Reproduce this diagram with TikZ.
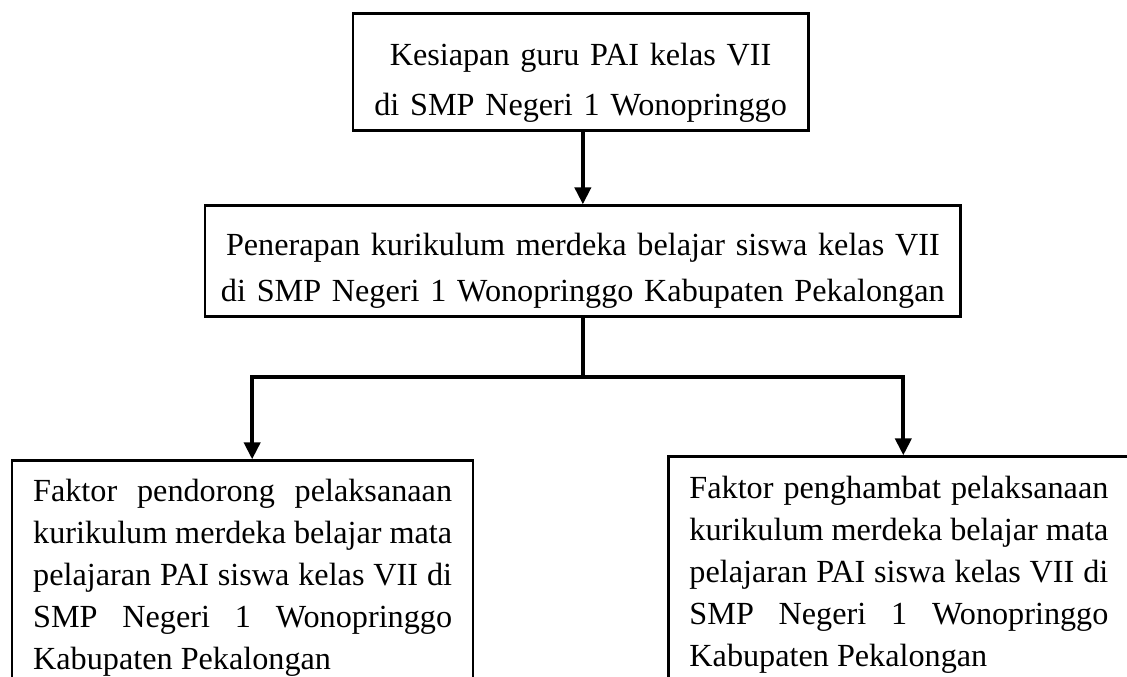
\documentclass[tikz,border=0pt]{standalone}
\usepackage{fontspec}
\setmainfont{Liberation Serif}
\usetikzlibrary{arrows.meta}
\tolerance=10000
\hbadness=10000
\hyphenpenalty=10000
\tikzset{
  txt/.style={font=\fontsize{16.1}{21}\selectfont},
  box/.style={draw, line width=1.3pt, inner sep=0pt, align=center, anchor=north},
  factor/.style={txt, draw, line width=1.3pt, inner xsep=0.37cm, inner ysep=0pt,
    text width=7.36cm, align=justify, text depth=200pt, anchor=north west},
  link/.style={line width=2pt},
  arr/.style={link, -{Triangle[length=8.5pt,width=8pt]}}
}
\begin{document}
\begin{tikzpicture}
\useasboundingbox (0,0) rectangle (19.80,11.88);
\clip (0,0) rectangle (19.80,11.88);
% Boxes
\node[box, font=\fontsize{16.1}{25}\selectfont, text width=8.0cm, text height=26pt, text depth=32.5pt] (kesiapan) at (10.20, 11.67)
  {Kesiapan guru PAI kelas VII\\di SMP Negeri 1 Wonopringgo};
\node[box, font=\fontsize{16.1}{23}\selectfont, text width=13.27cm, text height=25pt, text depth=30.5pt] (penerapan) at (10.24, 8.29)
  {Penerapan kurikulum merdeka belajar siswa kelas VII\\di SMP Negeri 1 Wonopringgo Kabupaten Pekalongan};
\node[factor, text height=20.5pt] (pendorong) at (0.19, 3.81)
  {Faktor pendorong pelaksanaan\linebreak kurikulum merdeka belajar mata\linebreak pelajaran PAI siswa kelas VII di\linebreak SMP Negeri 1 Wonopringgo\linebreak Kabupaten Pekalongan};
\node[factor, text height=21pt] (penghambat) at (11.72, 3.88)
  {Faktor penghambat pelaksanaan\linebreak kurikulum merdeka belajar mata\linebreak pelajaran PAI siswa kelas VII di\linebreak SMP Negeri 1 Wonopringgo\linebreak Kabupaten Pekalongan};
% Connectors
\coordinate (forkL) at (4.43, 5.25);
\coordinate (forkR) at (15.87, 5.25);
\draw[arr] (kesiapan.south -| penerapan.north) -- (penerapan.north);
\draw[link] (penerapan.south) -- (penerapan.south |- forkL);
\draw[arr] (forkL -| penerapan.south) -- (forkL) -- (forkL |- pendorong.north);
\draw[arr] (forkR -| penerapan.south) -- (forkR) -- (forkR |- penghambat.north);
\end{tikzpicture}
\end{document}
